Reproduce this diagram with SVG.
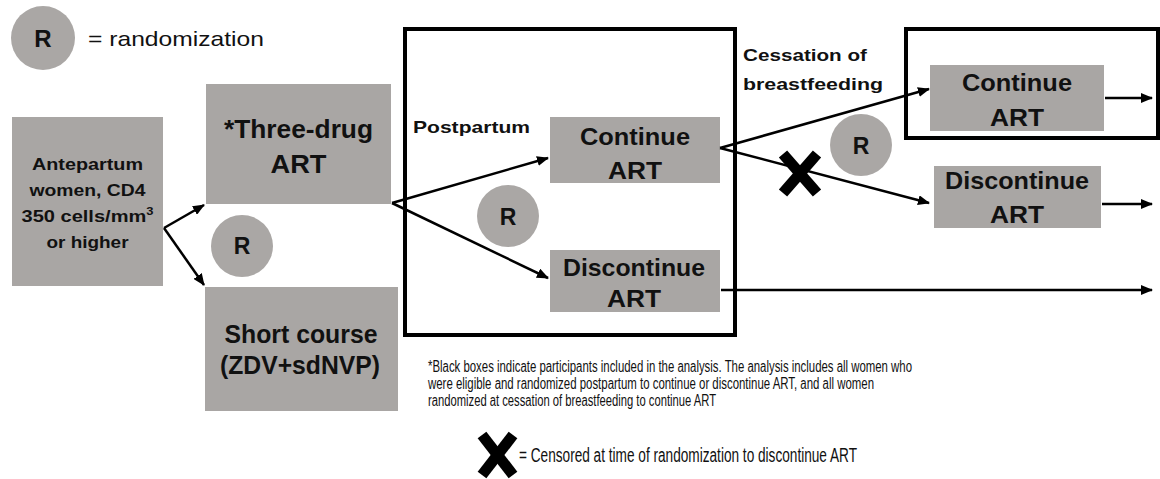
<svg xmlns="http://www.w3.org/2000/svg" width="1160" height="479" viewBox="0 0 1160 479">
<defs>
<style>
.box{fill:#a9a6a4;}
.circ{fill:#aaa7a5;}
.frame{fill:none;stroke:#000;stroke-width:4;}
.b{font-family:"Liberation Sans",Arial,sans-serif;font-weight:bold;fill:#111;text-anchor:middle;}
.r{font-family:"Liberation Sans",Arial,sans-serif;fill:#111;}
.ln{stroke:#000;stroke-width:2.5;fill:none;}
.xm{stroke:#000;stroke-width:11;stroke-linecap:butt;}
</style>
<marker id="ah" markerWidth="12" markerHeight="10" refX="11" refY="5" orient="auto" markerUnits="userSpaceOnUse">
<path d="M0,0 L12,5 L0,10 Z" fill="#000"/>
</marker>
</defs>
<rect width="1160" height="479" fill="#fff"/>

<g id="legend-r">
<circle class="circ" cx="43" cy="38" r="32"/>
<text class="b" x="43" y="47" font-size="24">R</text>
<text class="r" x="88" y="46" font-size="21" textLength="176" lengthAdjust="spacingAndGlyphs">= randomization</text>
</g>

<g id="postpartum-frame">
<rect class="frame" x="405" y="29" width="330" height="306"/>
<text class="b" x="413" y="133" font-size="17" style="text-anchor:start" textLength="117" lengthAdjust="spacingAndGlyphs">Postpartum</text>
</g>

<g id="cessation-frame">
<rect class="frame" x="906" y="29" width="252" height="109"/>
</g>

<g id="cessation-label">
<text class="b" x="743" y="61" font-size="17" style="text-anchor:start" textLength="124" lengthAdjust="spacingAndGlyphs">Cessation of</text>
<text class="b" x="743" y="90" font-size="17" style="text-anchor:start" textLength="140" lengthAdjust="spacingAndGlyphs">breastfeeding</text>
</g>

<g id="antepartum">
<rect class="box" x="12" y="117" width="151" height="169"/>
<text class="b" x="87.5" y="170" font-size="17" textLength="111" lengthAdjust="spacingAndGlyphs">Antepartum</text>
<text class="b" x="87.5" y="196" font-size="17" textLength="116" lengthAdjust="spacingAndGlyphs">women, CD4</text>
<text class="b" x="87.5" y="222" font-size="17" textLength="132" lengthAdjust="spacingAndGlyphs">350 cells/mm<tspan font-size="11" dy="-7">3</tspan></text>
<text class="b" x="87.5" y="248" font-size="17" textLength="82" lengthAdjust="spacingAndGlyphs">or higher</text>
</g>

<g id="three-drug">
<rect class="box" x="206" y="84" width="185" height="120"/>
<text class="b" x="298.5" y="138" font-size="25" textLength="149" lengthAdjust="spacingAndGlyphs">*Three-drug</text>
<text class="b" x="298.5" y="173" font-size="25" textLength="56" lengthAdjust="spacingAndGlyphs">ART</text>
</g>

<g id="r-antepartum">
<circle class="circ" cx="242" cy="246" r="31"/>
<text class="b" x="242" y="254" font-size="23">R</text>
</g>

<g id="short-course">
<rect class="box" x="205" y="287" width="193" height="124"/>
<text class="b" x="301" y="343" font-size="25" textLength="153" lengthAdjust="spacingAndGlyphs">Short course</text>
<text class="b" x="300" y="374" font-size="25" textLength="160" lengthAdjust="spacingAndGlyphs">(ZDV+sdNVP)</text>
</g>

<g id="pp-continue">
<rect class="box" x="550" y="117" width="170" height="66"/>
<text class="b" x="635" y="145" font-size="24" textLength="110" lengthAdjust="spacingAndGlyphs">Continue</text>
<text class="b" x="635" y="179" font-size="24" textLength="54" lengthAdjust="spacingAndGlyphs">ART</text>
</g>

<g id="r-postpartum">
<circle class="circ" cx="508" cy="216" r="31"/>
<text class="b" x="508" y="225" font-size="23">R</text>
</g>

<g id="pp-discontinue">
<rect class="box" x="550" y="250" width="170" height="62"/>
<text class="b" x="634" y="276" font-size="24" textLength="142" lengthAdjust="spacingAndGlyphs">Discontinue</text>
<text class="b" x="634" y="307" font-size="24" textLength="54" lengthAdjust="spacingAndGlyphs">ART</text>
</g>

<g id="cb-continue">
<rect class="box" x="930" y="65" width="174" height="66"/>
<text class="b" x="1017" y="91" font-size="24" textLength="110" lengthAdjust="spacingAndGlyphs">Continue</text>
<text class="b" x="1017" y="126" font-size="24" textLength="54" lengthAdjust="spacingAndGlyphs">ART</text>
</g>

<g id="r-cessation">
<circle class="circ" cx="861" cy="145" r="31"/>
<text class="b" x="861" y="154" font-size="23">R</text>
</g>

<g id="cb-discontinue">
<rect class="box" x="934" y="166" width="167" height="62"/>
<text class="b" x="1017" y="189" font-size="24" textLength="144" lengthAdjust="spacingAndGlyphs">Discontinue</text>
<text class="b" x="1017" y="223" font-size="24" textLength="54" lengthAdjust="spacingAndGlyphs">ART</text>
</g>

<g id="connectors">
<line class="ln" x1="164" y1="228" x2="204" y2="205" marker-end="url(#ah)"/>
<line class="ln" x1="164" y1="228" x2="204" y2="285" marker-end="url(#ah)"/>
<line class="ln" x1="392" y1="203" x2="548" y2="158" marker-end="url(#ah)"/>
<line class="ln" x1="392" y1="203" x2="548" y2="278" marker-end="url(#ah)"/>
<line class="ln" x1="720" y1="148" x2="929" y2="89" marker-end="url(#ah)"/>
<line class="ln" x1="720" y1="148" x2="929" y2="203" marker-end="url(#ah)"/>
<line class="ln" x1="1105" y1="98" x2="1152" y2="98" marker-end="url(#ah)"/>
<line class="ln" x1="1102" y1="204" x2="1152" y2="204" marker-end="url(#ah)"/>
<line class="ln" x1="721" y1="290" x2="1152" y2="290" marker-end="url(#ah)"/>
</g>

<g id="censor-mark">
<line class="xm" x1="783" y1="154" x2="817" y2="193"/>
<line class="xm" x1="817" y1="154" x2="783" y2="193"/>
</g>

<g id="footnote">
<text class="r" x="428" y="372" font-size="16" textLength="484" lengthAdjust="spacingAndGlyphs">*Black boxes indicate participants included in the analysis. The analysis includes all women who</text>
<text class="r" x="428" y="389" font-size="16" textLength="446" lengthAdjust="spacingAndGlyphs">were eligible and randomized postpartum to continue or discontinue ART, and all women</text>
<text class="r" x="428" y="406" font-size="16" textLength="288" lengthAdjust="spacingAndGlyphs">randomized at cessation of breastfeeding to continue ART</text>
</g>

<g id="legend-x">
<line class="xm" x1="482" y1="435" x2="513" y2="475"/>
<line class="xm" x1="513" y1="435" x2="482" y2="475"/>
<text class="r" x="519" y="462" font-size="20" textLength="338" lengthAdjust="spacingAndGlyphs">= Censored at time of randomization to discontinue ART</text>
</g>
</svg>
